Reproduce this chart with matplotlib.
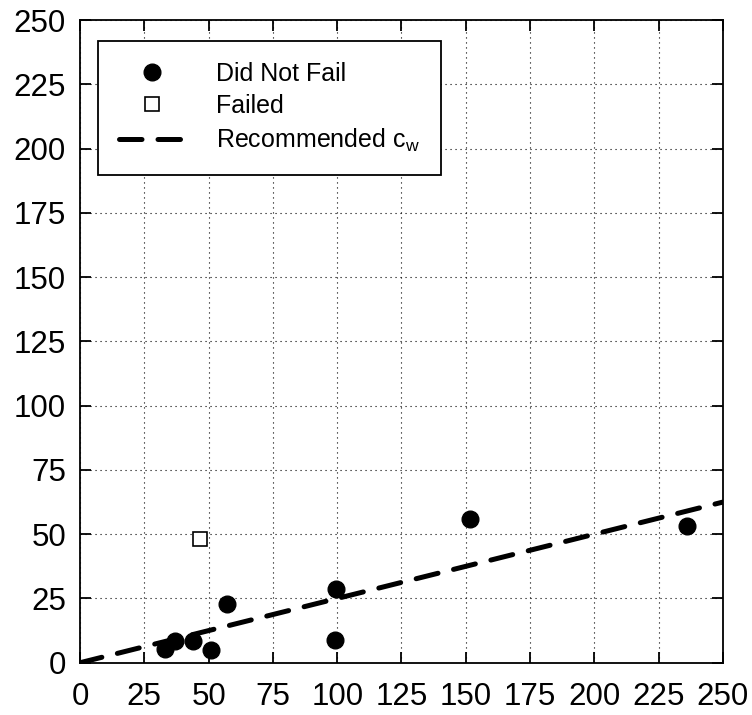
import matplotlib
matplotlib.use("Agg")
import matplotlib.pyplot as plt

plt.rcParams['font.family'] = ['Liberation Sans', 'DejaVu Sans']

# did not fail
ok_x = [33.0, 37.0, 44.0, 51.0, 57.0, 99.5, 99.0, 151.5, 236.0]
ok_y = [5.5, 8.4, 8.4, 5.0, 23.0, 28.5, 9.0, 56.0, 53.0]

# failed
fail_x = [46.5]
fail_y = [48.0]

# recommended c_w line
cw_x = [0, 250]
cw_y = [0, 62.5]

ticks = [0, 25, 50, 75, 100, 125, 150, 175, 200, 225, 250]

fig = plt.figure(figsize=(7.52, 7.15), dpi=100)
ax = fig.add_axes([0.1064, 0.0731, 0.855, 0.8989])

ax.plot(ok_x, ok_y, 'o', color='black', markersize=12, label='Did Not Fail', zorder=3)
ax.plot(fail_x, fail_y, 's', markerfacecolor='white', markeredgecolor='black',
        markersize=10, markeredgewidth=1.2, label='Failed', zorder=3)
ax.plot(cw_x, cw_y, color='black', linewidth=3.6, dashes=(4.5, 3.2),
        dash_capstyle='round', label='Recommended c$_\\mathregular{w}$', zorder=2)

ax.set_xlim(0, 250)
ax.set_ylim(0, 250)
ax.set_xticks(ticks)
ax.set_yticks(ticks)
ax.tick_params(direction='in', length=8, width=1.3, labelsize=22.5, pad=10,
               top=True, right=True)
ax.tick_params(axis='x', pad=14)
ax.grid(True, color='black', linestyle=(0, (1, 3.5)), linewidth=0.8)
for s in ax.spines.values():
    s.set_linewidth(1.3)

leg = ax.legend(loc='upper left', bbox_to_anchor=(0.028, 0.968), fontsize=18,
                frameon=True, fancybox=False, edgecolor='black', framealpha=1,
                handlelength=2.6, borderpad=0.85, labelspacing=0.33, handletextpad=1.25,
                borderaxespad=0)
leg.get_frame().set_linewidth(1.3)

fig.savefig('out.png', dpi=100)
